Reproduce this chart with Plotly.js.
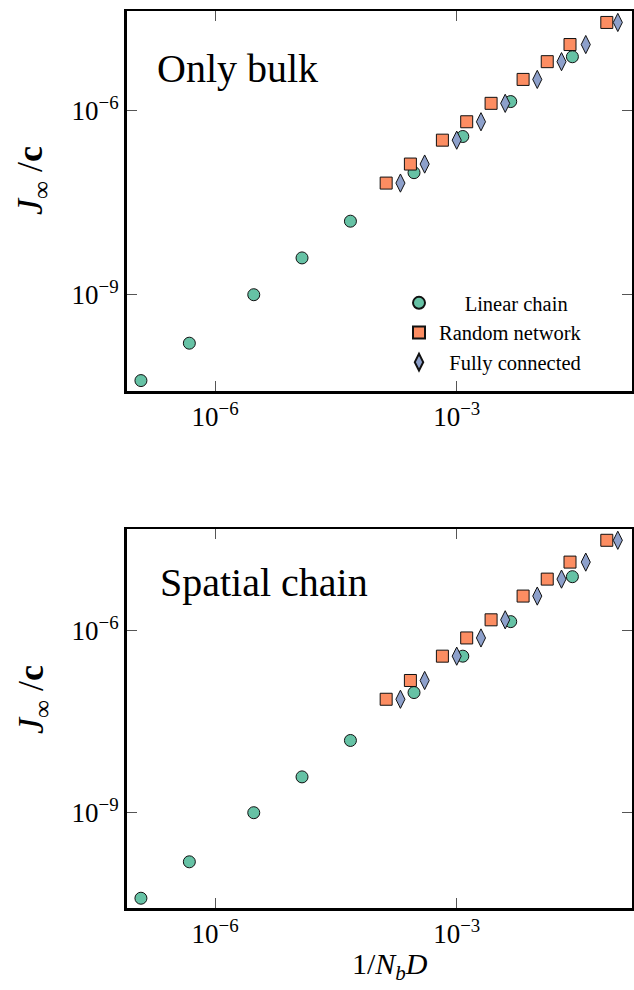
<!DOCTYPE html>
<html>
<head>
<meta charset="utf-8">
<script src="https://cdn.plot.ly/plotly-3.0.1.min.js"></script>
<style>html,body{margin:0;padding:0;background:#fff;}#plot{width:634px;height:990px;}</style>
</head>
<body>
<div id="plot"></div>
<script>
// ---- data ----
const xLinear = [1.20e-7, 4.79e-7, 3.02e-6, 1.20e-5, 4.79e-5, 2.95e-4, 1.19e-3, 4.68e-3, 2.73e-2];
const yLinearBulk = [3.98e-11, 1.62e-10, 1.0e-9, 3.98e-9, 1.58e-8, 9.77e-8, 3.80e-7, 1.41e-6, 7.59e-6];
const yLinearSpatial = [3.89e-11, 1.55e-10, 1.0e-9, 3.89e-9, 1.55e-8, 9.55e-8, 3.80e-7, 1.41e-6, 7.76e-6];

const xRandom = [1.33e-4, 2.66e-4, 6.64e-4, 1.33e-3, 2.67e-3, 6.67e-3, 1.33e-2, 2.55e-2, 7.3e-2];
const yRandomBulk = [6.61e-8, 1.35e-7, 3.31e-7, 6.61e-7, 1.32e-6, 3.24e-6, 6.31e-6, 1.20e-5, 2.75e-5];
const yRandomSpatial = [7.41e-8, 1.51e-7, 3.80e-7, 7.59e-7, 1.51e-6, 3.72e-6, 7.08e-6, 1.35e-5, 3.09e-5];

const xFully = [2.0e-4, 4.0e-4, 1.0e-3, 2.0e-3, 4.0e-3, 1.0e-2, 2.0e-2, 4.0e-2, 1.0e-1];
const yFullyBulk = [6.61e-8, 1.35e-7, 3.31e-7, 6.61e-7, 1.32e-6, 3.24e-6, 6.31e-6, 1.20e-5, 2.75e-5];
const yFullySpatial = [7.41e-8, 1.51e-7, 3.80e-7, 7.59e-7, 1.51e-6, 3.72e-6, 7.08e-6, 1.35e-5, 3.09e-5];

const seriesNames = ['Linear chain', 'Random network', 'Fully connected'];
const panelLabels = ['Only bulk', 'Spatial chain'];
const xTickVals = [1e-6, 1e-3];
const xTickText = ['10<sup>−6</sup>', '10<sup>−3</sup>'];
const yTickVals = [1e-9, 1e-6];
const yTickText = ['10<sup>−9</sup>', '10<sup>−6</sup>'];

// ---- styling ----
const FONT = '"Liberation Serif", "DejaVu Serif", serif';
const colors = ['#66c2a5', '#fc8d62', '#8da0cb'];
const symbols = ['circle', 'square', 'diamond-tall'];
const sizes = [12, 12, 13];
const W = 634, H = 990;

function mk(x, y, i, xa, ya, show) {
  return {
    x: x, y: y, type: 'scatter', mode: 'markers',
    name: (i === 0 ? '\u00a0\u00a0\u00a0\u00a0\u00a0' : (i === 2 ? '\u00a0\u00a0' : '')) + seriesNames[i],
    xaxis: xa, yaxis: ya, showlegend: show, legendgroup: 'g' + i,
    marker: {symbol: symbols[i], size: sizes[i], color: colors[i], line: {color: '#111', width: 1}}
  };
}

const traces = [
  mk(xLinear, yLinearBulk, 0, 'x', 'y', true),
  mk(xRandom, yRandomBulk, 1, 'x', 'y', true),
  mk(xFully, yFullyBulk, 2, 'x', 'y', true),
  mk(xLinear, yLinearSpatial, 0, 'x2', 'y2', false),
  mk(xRandom, yRandomSpatial, 1, 'x2', 'y2', false),
  mk(xFully, yFullySpatial, 2, 'x2', 'y2', false)
];

const xDom = [126.5 / W, 631.5 / W];
const yDomTop = [1 - 391 / H, 1 - 11 / H];
const yDomBot = [1 - 908.3 / H, 1 - 529 / H];

function axBase(extra) {
  return Object.assign({
    type: 'log', showgrid: false, zeroline: false, showline: true,
    linecolor: '#000', linewidth: 2.5, mirror: 'allticks',
    ticks: 'inside', ticklen: 10, tickwidth: 1.2, tickcolor: '#555',
    tickfont: {family: FONT, size: 27, color: '#000'}
  }, extra);
}

const layout = {
  width: W, height: H,
  margin: {l: 0, r: 0, t: 0, b: 0},
  paper_bgcolor: '#fff', plot_bgcolor: '#fff',
  font: {family: FONT},
  showlegend: true,
  legend: {
    x: 399 / W, y: 1 - 283 / H, xanchor: 'left', yanchor: 'top',
    bgcolor: 'rgba(0,0,0,0)', borderwidth: 0,
    font: {family: FONT, size: 20.5, color: '#000'},
    itemsizing: 'constant', tracegroupgap: 0
  },
  xaxis: axBase({domain: xDom, anchor: 'y', range: [-7.10, -0.83], tickvals: xTickVals, ticktext: xTickText}),
  yaxis: axBase({domain: yDomTop, anchor: 'x', range: [-10.57, -4.374], tickvals: yTickVals, ticktext: yTickText}),
  xaxis2: axBase({domain: xDom, anchor: 'y2', range: [-7.10, -0.83], tickvals: xTickVals, ticktext: xTickText}),
  yaxis2: axBase({domain: yDomBot, anchor: 'x2', range: [-10.576, -4.324], tickvals: yTickVals, ticktext: yTickText}),
  annotations: [
    {text: panelLabels[0], xref: 'paper', yref: 'paper', x: 155 / W, y: 1 - 68 / H, xanchor: 'left', yanchor: 'middle',
     showarrow: false, font: {family: FONT, size: 40, color: '#000'}},
    {text: panelLabels[1], xref: 'paper', yref: 'paper', x: 158 / W, y: 1 - 582 / H, xanchor: 'left', yanchor: 'middle',
     showarrow: false, font: {family: FONT, size: 40, color: '#000'}},
    {text: '<i>J</i><sub>∞</sub> /<b>c</b>', xref: 'paper', yref: 'paper', x: 33 / W, y: 1 - 181 / H,
     xanchor: 'center', yanchor: 'middle', textangle: -90, showarrow: false, font: {family: FONT, size: 36, color: '#000'}},
    {text: '<i>J</i><sub>∞</sub> /<b>c</b>', xref: 'paper', yref: 'paper', x: 33 / W, y: 1 - 700 / H,
     xanchor: 'center', yanchor: 'middle', textangle: -90, showarrow: false, font: {family: FONT, size: 36, color: '#000'}},
    {text: '1/<i>N</i><sub><i>b</i></sub><i>D</i>', xref: 'paper', yref: 'paper', x: 390 / W, y: 1 - 966 / H,
     xanchor: 'center', yanchor: 'middle', showarrow: false, font: {family: FONT, size: 30, color: '#000'}}
  ]
};

Plotly.newPlot('plot', traces, layout, {displayModeBar: false, staticPlot: true});
</script>
</body>
</html>
